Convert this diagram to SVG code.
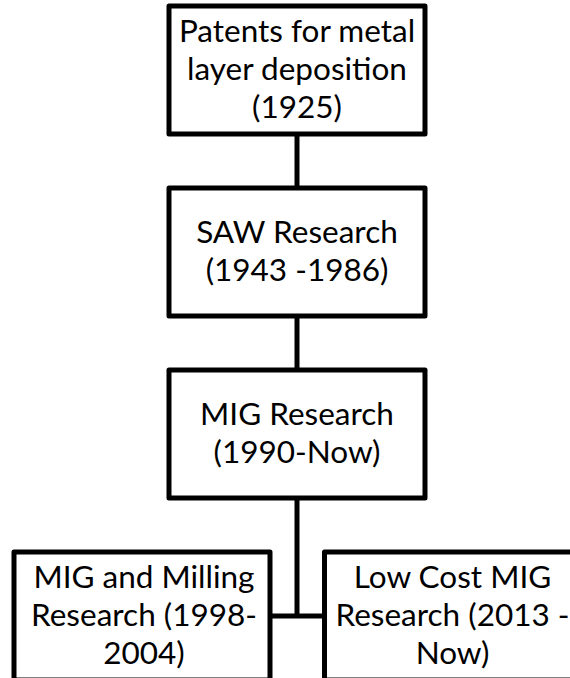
<svg xmlns="http://www.w3.org/2000/svg" width="570" height="678" viewBox="0 0 570 678">
  <style>
    .box { fill: #ffffff; stroke: #000000; stroke-width: 5; stroke-linejoin: round; }
    .link { fill: none; stroke: #000000; stroke-width: 5; }
    .label { font-family: Lato, "Liberation Sans", Arial, sans-serif; font-size: 31.5px; fill: #000000; text-anchor: middle; }
  </style>
  <rect width="570" height="678" fill="#ffffff"/>

  <!-- connectors -->
  <g id="connectors">
    <line class="link" x1="297" y1="134" x2="297" y2="188"/>
    <line class="link" x1="297" y1="316" x2="297" y2="370"/>
    <line class="link" x1="297" y1="498" x2="297" y2="616"/>
    <line class="link" x1="270" y1="616" x2="324.5" y2="616"/>
  </g>

  <!-- timeline nodes -->
  <g id="patents">
    <rect class="box" x="169" y="6" width="256" height="128"/>
    <text class="label" x="297" y="42">Patents for metal</text>
    <text class="label" x="297" y="80">layer deposition</text>
    <text class="label" x="297" y="118">(1925)</text>
  </g>

  <g id="saw">
    <rect class="box" x="169" y="188" width="256" height="128"/>
    <text class="label" x="297" y="243">SAW Research</text>
    <text class="label" x="297" y="281">(1943 -1986)</text>
  </g>

  <g id="mig">
    <rect class="box" x="169" y="370" width="256" height="128"/>
    <text class="label" x="297" y="425">MIG Research</text>
    <text class="label" x="297" y="463">(1990-Now)</text>
  </g>

  <g id="mig-milling">
    <rect class="box" x="14" y="552" width="256" height="128"/>
    <text class="label" x="144" y="588">MIG and Milling</text>
    <text class="label" x="144" y="626">Research (1998-</text>
    <text class="label" x="144" y="664">2004)</text>
  </g>

  <g id="low-cost-mig">
    <rect class="box" x="324.5" y="552" width="256" height="128"/>
    <text class="label" x="452.5" y="588">Low Cost MIG</text>
    <text class="label" x="452.5" y="626">Research (2013 -</text>
    <text class="label" x="452.5" y="664">Now)</text>
  </g>
</svg>
